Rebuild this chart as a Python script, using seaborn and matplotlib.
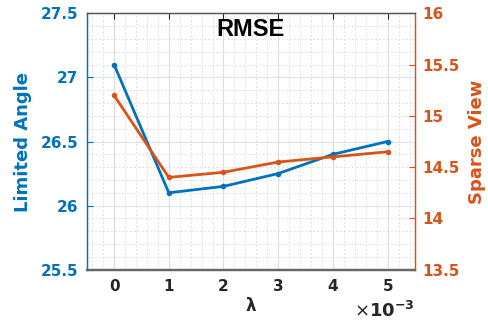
import matplotlib
matplotlib.use("Agg")
import matplotlib.pyplot as plt
import seaborn as sns
import pandas as pd
from matplotlib.ticker import MultipleLocator

lam = [0, 1, 2, 3, 4, 5]
limited_angle = [27.1, 26.1, 26.15, 26.25, 26.4, 26.5]
sparse_view = [15.2, 14.4, 14.45, 14.55, 14.6, 14.65]

BLUE = "#0072BD"
ORANGE = "#D95319"

sns.set_style("white")
plt.rcParams["font.family"] = ["DejaVu Sans"]

df = pd.DataFrame({"lam": lam, "la": limited_angle, "sv": sparse_view})

fig = plt.figure(figsize=(4.88, 3.26), dpi=100)
ax = fig.add_axes([0.1777, 0.1727, 0.8504 - 0.1777, 0.9592 - 0.1727])
ax2 = ax.twinx()

sns.lineplot(data=df, x="lam", y="la", ax=ax, color=BLUE, lw=2, marker="o",
             markersize=4, markeredgewidth=0, zorder=3)
sns.lineplot(data=df, x="lam", y="sv", ax=ax2, color=ORANGE, lw=2, marker="o",
             markersize=4, markeredgewidth=0, zorder=3)

ax.set_xlim(-0.5, 5.5)
ax.set_ylim(25.5, 27.5)
ax2.set_ylim(13.5, 16)
ax.set_xticks(lam)
ax.set_yticks([25.5, 26, 26.5, 27, 27.5])
ax2.set_yticks([13.5, 14, 14.5, 15, 15.5, 16])
ax.set_yticklabels(["25.5", "26", "26.5", "27", "27.5"])
ax2.set_yticklabels(["13.5", "14", "14.5", "15", "15.5", "16"])

ax.xaxis.set_minor_locator(MultipleLocator(0.2))
ax.yaxis.set_minor_locator(MultipleLocator(0.1))

# grids
ax.grid(which="major", axis="x", color="#dcdcdc", lw=0.8, ls="-")
ax.grid(which="major", axis="y", color="#d4e5f3", lw=0.8, ls="-")
ax.grid(which="minor", axis="both", color="#e0e0e0", lw=0.7, ls=(0, (2, 2)))
ax.set_axisbelow(True)

ax.tick_params(axis="x", which="major", direction="in", length=4, colors="#262626",
               labelsize=11, top=True, pad=7)
ax.tick_params(axis="y", which="major", direction="in", length=4, colors=BLUE,
               labelsize=11, pad=6)
ax.tick_params(which="minor", length=0)
ax2.tick_params(axis="y", which="major", direction="in", length=4, colors=ORANGE,
                labelsize=11, pad=5)

for lab in ax.get_xticklabels() + ax.get_yticklabels() + ax2.get_yticklabels():
    lab.set_fontweight("bold")

for a in (ax, ax2):
    a.spines["left"].set_color(BLUE)
    a.spines["right"].set_color(ORANGE)
    a.spines["top"].set_color("#555555")
    a.spines["bottom"].set_color("#666666")
    a.spines["left"].set_linewidth(0.9)
    a.spines["right"].set_linewidth(0.9)
    a.spines["top"].set_linewidth(0.9)
    a.spines["bottom"].set_linewidth(1.6)

ax.set_xlabel("λ", fontsize=12, fontweight="bold", color="#262626", labelpad=2)
ax.set_ylabel("Limited Angle", fontsize=13, fontweight="bold", color=BLUE, labelpad=6)
ax2.set_ylabel("Sparse View", fontsize=13, fontweight="bold", color=ORANGE, labelpad=6)

ax.text(0.5, 0.935, "RMSE", transform=ax.transAxes, ha="center", va="center",
        fontsize=17, fontweight="bold", family="Liberation Sans", color="black")

fig.text(0.8504, 0.046, r"$\times\mathbf{10^{-3}}$", ha="right", va="center",
         fontsize=13, color="#262626")

fig.savefig("out.png", dpi=100)
